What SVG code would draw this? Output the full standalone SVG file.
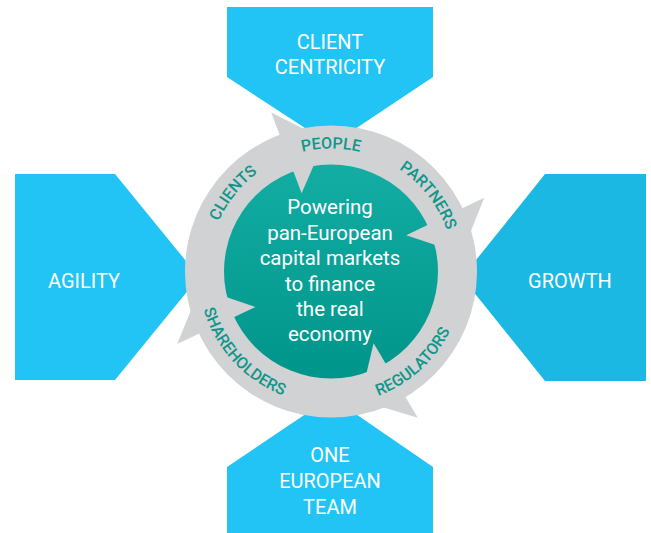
<svg xmlns="http://www.w3.org/2000/svg" width="651" height="533" viewBox="0 0 651 533">
<defs>
<linearGradient id="teal" x1="0" y1="0" x2="0" y2="1">
<stop offset="0" stop-color="#13ada3"/>
<stop offset="1" stop-color="#00958a"/>
</linearGradient>
<path id="pPeople" d="M244.03,184.53 A123,123 0 0 1 417.97,184.53"/>
<path id="pPartners" d="M345.99,149.42 A123,123 0 0 1 453.08,286.49"/>
<path id="pClients" d="M208.74,284.99 A123,123 0 0 1 317.51,149.24"/>
<path id="pRegulators" d="M324.51,404.34 A133,133 0 0 0 463.84,277.99"/>
<path id="pShareholders" d="M198.11,266.16 A133,133 0 0 0 325.66,404.39"/>
</defs>
<style>
.blue{fill:#21c4f4}
.blue2{fill:#1ab8e2}
.lbl{font-family:Roboto,"Liberation Sans",sans-serif;font-size:20px;fill:#ffffff;text-anchor:middle}
.ring{fill:#d1d2d4}
.ringtxt{font-family:Roboto,"Liberation Sans",sans-serif;font-size:16px;font-weight:500;fill:#0f968a}
.main{font-family:Roboto,"Liberation Sans",sans-serif;font-size:20.5px;fill:#ffffff;text-anchor:middle}
</style>
<g id="node-client-centricity">
<polygon class="blue" points="227,7 433,7 433,77 331,145 227,77"/>
<text class="lbl" x="330" y="48.5">CLIENT</text>
<text class="lbl" x="330" y="73.5">CENTRICITY</text>
</g>
<g id="node-agility">
<polygon class="blue" points="15,174 115,174 199,277 115,380 15,380"/>
<text class="lbl" x="84" y="288">AGILITY</text>
</g>
<g id="node-growth">
<polygon class="blue2" points="545,174 646,174 646,381 545,381 462,277.5"/>
<text class="lbl" x="570" y="288">GROWTH</text>
</g>
<g id="node-one-european-team">
<polygon class="blue" points="227,533 433,533 433,467 331,397 227,467"/>
<text class="lbl" x="330" y="462">ONE</text>
<text class="lbl" x="330" y="487.5">EUROPEAN</text>
<text class="lbl" x="330" y="513.5">TEAM</text>
</g>
<g id="node-center">
<circle class="ring" cx="331" cy="271.5" r="146"/>
<circle cx="331" cy="271.5" r="107" fill="url(#teal)"/>
</g>
<g id="connectors">
<polygon class="ring" points="271.2,112.4 325.0,139.6 301.6,193.3"/>
<polygon class="ring" points="484.2,197.8 461.8,253.8 406.2,235.3"/>
<polygon class="ring" points="417.8,417.7 360.0,400.3 373.6,343.3"/>
<polygon class="ring" points="177.2,343.9 200.0,288.0 255.4,307.1"/>
</g>
<g id="ring-labels">
<text class="ringtxt" text-anchor="middle"><textPath href="#pPeople" startOffset="50%">PEOPLE</textPath></text>
<text class="ringtxt" text-anchor="middle"><textPath href="#pPartners" startOffset="50%">PARTNERS</textPath></text>
<text class="ringtxt" text-anchor="middle"><textPath href="#pClients" startOffset="50%">CLIENTS</textPath></text>
<text class="ringtxt" text-anchor="middle"><textPath href="#pRegulators" startOffset="50%">REGULATORS</textPath></text>
<text class="ringtxt" text-anchor="middle"><textPath href="#pShareholders" startOffset="50%">SHAREHOLDERS</textPath></text>
</g>
<g id="center-text">
<text class="main" x="330" y="214">Powering</text>
<text class="main" x="330" y="239.5">pan-European</text>
<text class="main" x="330" y="265">capital markets</text>
<text class="main" x="330" y="290.5">to finance</text>
<text class="main" x="330" y="316">the real</text>
<text class="main" x="330" y="341">economy</text>
</g>
</svg>
